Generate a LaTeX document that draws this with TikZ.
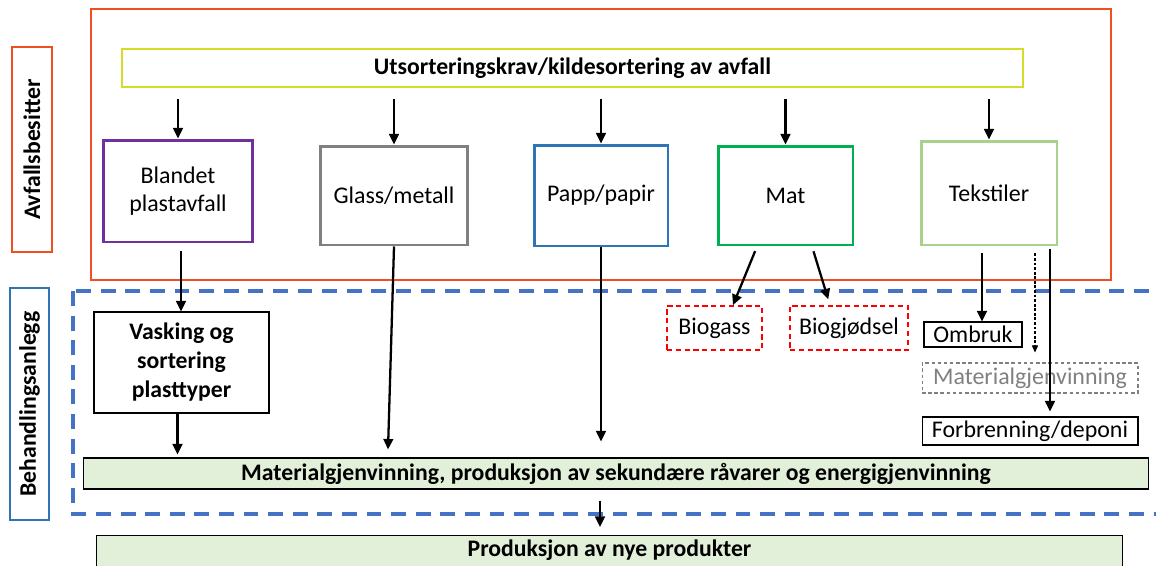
\documentclass[tikz,border=0pt]{standalone}
\usepackage{fontspec}
\setmainfont{Carlito}
\usetikzlibrary{arrows.meta,calc}
\definecolor{avred}{RGB}{240,78,35}
\definecolor{utgul}{RGB}{212,220,40}
\definecolor{plastlilla}{RGB}{112,48,160}
\definecolor{glassgraa}{RGB}{128,128,128}
\definecolor{pappblaa}{RGB}{46,117,182}
\definecolor{matgronn}{RGB}{0,176,80}
\definecolor{tekstgronn}{RGB}{169,209,142}
\definecolor{anleggblaa}{RGB}{68,114,196}
\definecolor{gjenfyll}{RGB}{226,239,217}
\definecolor{biorod}{RGB}{255,0,0}
\begin{document}
\begin{tikzpicture}[x=0.02cm,y=-0.02cm,
  txt/.style={font=\fontsize{13.6}{16}\selectfont, align=center, inner sep=1pt},
  btxt/.style={font=\fontsize{13.5}{16}\selectfont\bfseries, align=center, inner sep=1pt},
  kat/.style={txt, draw, line width=1.7pt},
  bio/.style={txt, draw=biorod, line width=1pt, dash pattern=on 3pt off 2pt, minimum height=0.88cm},
  ut/.style={txt, draw, line width=0.6pt},
  gjen/.style={btxt, draw, line width=0.6pt, fill=gjenfyll},
  pil/.style={line width=1.3pt, -{Triangle[width=5.5pt,length=6pt]}},
  tynnpil/.style={line width=0.6pt, dash pattern=on 1.6pt off 1pt, -{Triangle[width=3.5pt,length=4pt]}}]
\useasboundingbox (0,0) rectangle (1156,565);

\draw[avred, line width=1pt] (91,9) rectangle (1111,280);
\draw[anleggblaa, line width=2pt, dash pattern=on 8.5pt off 5.5pt] (73,291) rectangle (1175,514);

\node[btxt, draw=avred, line width=1pt, rotate=90, minimum width=4.1cm, minimum height=0.8cm] (avf) at (32,149.5) {Avfallsbesitter};
\node[btxt, draw=pappblaa, line width=1pt, rotate=90, minimum width=4.64cm, minimum height=0.78cm] (beh) at (29.5,404) {Behandlingsanlegg};

\node[btxt, draw=utgul, line width=1.3pt, minimum width=18.02cm, minimum height=0.76cm] (krav) at (572.5,68) {Utsorteringskrav/kildesortering av avfall};

\node[kat, draw=plastlilla, minimum width=3.0cm, minimum height=2.04cm] (plast) at (178,191) {Blandet\\plastavfall};
\node[kat, draw=glassgraa, minimum width=2.96cm, minimum height=1.98cm] (glass) at (394,195.5) {Glass/metall};
\node[kat, draw=pappblaa, minimum width=2.68cm, minimum height=2.02cm] (papp) at (601,195.5) {Papp/papir};
\node[kat, draw=matgronn, minimum width=2.7cm, minimum height=1.98cm] (mat) at (785.5,195.5) {Mat};
\node[kat, draw=tekstgronn, minimum width=2.72cm, minimum height=2.08cm] (tekst) at (989,193) {Tekstiler};

\node[btxt, draw, line width=0.6pt, minimum width=3.5cm, minimum height=2.02cm, font=\fontsize{13.5}{16.5}\selectfont\bfseries] (vask) at (181.5,362.5) {Vasking og\\sortering\\plasttyper};
\node[bio, minimum width=1.9cm] (biogass) at (714.5,328) {Biogass};
\node[bio, minimum width=2.36cm] (biogjod) at (849,328) {Biogjødsel};
\node[ut, minimum width=1.96cm, minimum height=0.5cm] (ombruk) at (973,334.5) {Ombruk};
\node[ut, draw=glassgraa, text=glassgraa, dash pattern=on 2pt off 1.5pt, minimum width=4.32cm, minimum height=0.6cm] (matgr) at (1030,378) {Materialgjenvinning};
\node[ut, minimum width=4.32cm, minimum height=0.56cm] (forbr) at (1030,431) {Forbrenning/deponi};

\node[gjen, minimum width=21.32cm, minimum height=0.62cm] (gjenv) at (616,473.5) {Materialgjenvinning, produksjon av sekundære råvarer og energigjenvinning};
\node[gjen, minimum width=20.54cm, minimum height=0.72cm, anchor=north, inner sep=2.5pt] (prod) at (609.5,535) {Produksjon av nye produkter\\[2pt]\strut};

\foreach \kat in {plast,glass,papp,mat,tekst}
  \draw[pil, shorten <=0.22cm] (krav.south -| \kat.north) -- (\kat.north);

\draw[pil, shorten <=0.16cm] ([xshift=0.06cm]plast.south) -- ([xshift=0.06cm]plast.south |- vask.north);
\draw[pil] ([xshift=-0.08cm]vask.south) -- ([xshift=-0.08cm,yshift=0.06cm]vask.south |- gjenv.north);
\draw[pil] (glass.south) -- ([xshift=-0.12cm,yshift=0.16cm]glass.south |- gjenv.north);
\draw[pil] (papp.south) -- ([yshift=0.32cm]papp.south |- gjenv.north);

\draw[pil, shorten <=0.1cm] ([xshift=-0.57cm]mat.south) -- ([xshift=0.37cm]biogass.north);
\draw[pil, shorten <=0.1cm, shorten >=0.12cm] ([xshift=0.53cm]mat.south) -- ([xshift=-0.38cm]biogjod.north);

\draw[pil, shorten <=0.14cm] ([xshift=-0.14cm]tekst.south) -- ([xshift=-0.14cm]tekst.south |- ombruk.north);
\draw[tynnpil, shorten <=0.14cm, shorten >=0.2cm] ([xshift=0.92cm]tekst.south) -- ([xshift=0.92cm]tekst.south |- matgr.north);
\draw[pil, shorten <=0.06cm, shorten >=0.1cm] ([xshift=1.22cm]tekst.south) -- ([xshift=1.22cm]tekst.south |- forbr.north);

\draw[pil, shorten <=0.22cm, shorten >=0.16cm] ([xshift=-0.32cm]gjenv.south) -- ([xshift=-0.32cm]gjenv.south |- prod.north);
\end{tikzpicture}
\end{document}
